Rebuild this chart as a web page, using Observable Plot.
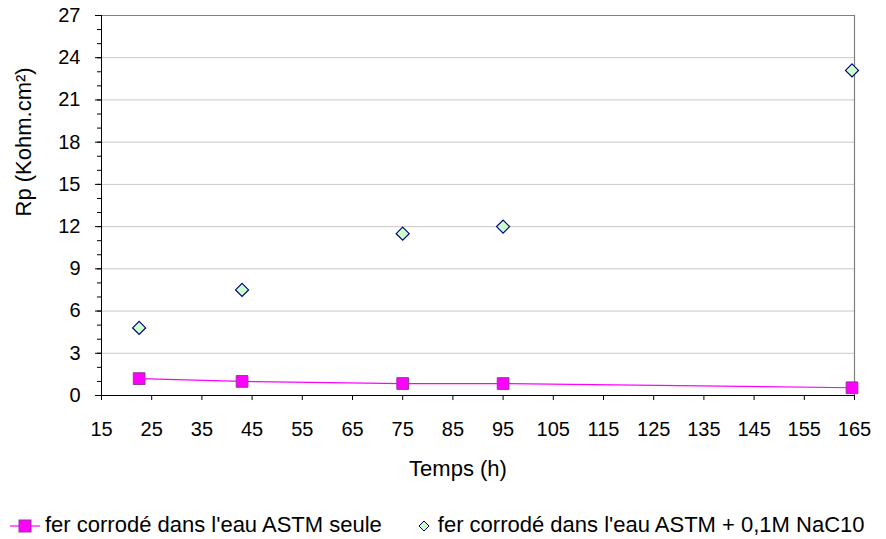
<!DOCTYPE html>
<html>
<head>
<meta charset="utf-8">
<script src="https://cdn.jsdelivr.net/npm/d3@7"></script>
<script src="https://cdn.jsdelivr.net/npm/@observablehq/plot@0.6"></script>
<style>
  body { margin: 0; background: #fff; font-family: "Liberation Sans", Arial, sans-serif; }
  #chart svg { display: block; }
  #legend { margin-top: 10px; height: 30px; line-height: 30px; display: flex; align-items: center; font-size: 22px; color: #000; white-space: nowrap; }
  #legend .item { display: flex; align-items: center; }
  #legend svg { display: block; }
</style>
</head>
<body>
<div id="chart"></div>
<div id="legend"></div>
<script>
const hours = [22.5, 43, 75, 95, 164.5];
const rpSeule = [1.2, 1.0, 0.85, 0.85, 0.55];
const rpNaC10 = [4.8, 7.5, 11.5, 12.0, 23.1];
const seriesNames = ["fer corrodé dans l'eau ASTM seule", "fer corrodé dans l'eau ASTM + 0,1M NaC10"];
const xTicks = [15, 25, 35, 45, 55, 65, 75, 85, 95, 105, 115, 125, 135, 145, 155, 165];
const yTicks = [0, 3, 6, 9, 12, 15, 18, 21, 24, 27];
const yMinor = d3.range(0, 28, 1);
const xLabel = "Temps (h)";
const yLabel = "Rp (Kohm.cm²)";

const seule = hours.map((h, i) => ({h, rp: rpSeule[i]}));
const nac = hours.map((h, i) => ({h, rp: rpNaC10[i]}));

const excelDiamond = {
  draw(ctx, size) {
    const r = Math.sqrt(size / 2);
    ctx.moveTo(0, -r); ctx.lineTo(r, 0); ctx.lineTo(0, r); ctx.lineTo(-r, 0); ctx.closePath();
  }
};

const chart = Plot.plot({
  width: 886,
  height: 500,
  marginLeft: 101,
  marginRight: 32,
  marginTop: 15,
  marginBottom: 105,
  style: {fontFamily: "Liberation Sans, Arial, sans-serif", fontSize: "20px", color: "#000", background: "#fff"},
  x: {domain: [15, 165]},
  y: {domain: [0, 27]},
  marks: [
    Plot.gridY(yTicks, {stroke: "#c8c8c8", strokeOpacity: 1}),
    Plot.ruleY([27], {stroke: "#808080"}),
    Plot.ruleX([165], {stroke: "#808080", strokeWidth: 1.2}),
    Plot.axisY(yMinor, {tickSize: 4, tickFormat: () => "", label: null, stroke: "#000"}),
    Plot.axisY(yTicks, {tickSize: 6, tickPadding: 15, fontSize: 20, label: null, stroke: "#000"}),
    Plot.axisX(xTicks, {tickSize: 5, tickPadding: 21, fontSize: 20, label: null, stroke: "#000"}),
    Plot.ruleX([15], {stroke: "#000"}),
    Plot.ruleY([0], {stroke: "#000"}),
    Plot.line(seule, {x: "h", y: "rp", stroke: "#ff00ff", strokeWidth: 1.2}),
    Plot.dot(seule, {x: "h", y: "rp", symbol: "square", r: 6.6, fill: "#ff00ff", stroke: "#993399", strokeWidth: 1}),
    Plot.dot(nac, {x: "h", y: "rp", symbol: excelDiamond, r: 5.2, fill: "#ccffcc", stroke: "#000080", strokeWidth: 1.2}),
    Plot.text([xLabel], {frameAnchor: "bottom", dx: -20, dy: 80, fontSize: 22, fill: "#000"}),
    Plot.text([yLabel], {frameAnchor: "left", dx: -78, dy: 11, rotate: -90, fontSize: 22, fill: "#000"})
  ]
});
document.getElementById("chart").appendChild(chart);

// legend
const legend = d3.select("#legend");
const item1 = legend.append("div").attr("class", "item").style("margin-left", "9px");
const s1 = item1.append("svg").attr("width", 32).attr("height", 24);
s1.append("line").attr("x1", 1).attr("x2", 31).attr("y1", 13).attr("y2", 13).attr("stroke", "#ff00ff").attr("stroke-width", 1.2);
s1.append("rect").attr("x", 10).attr("y", 7).attr("width", 12).attr("height", 12).attr("fill", "#ff00ff").attr("stroke", "#993399");
item1.append("span").style("margin-left", "4px").text(seriesNames[0]);
const item2 = legend.append("div").attr("class", "item").style("margin-left", "35px");
const s2 = item2.append("svg").attr("width", 14).attr("height", 24);
s2.append("path").attr("d", "M7,8 L12,13 L7,18 L2,13 Z").attr("fill", "#ccffcc").attr("stroke", "#000080");
item2.append("span").style("margin-left", "7px").text(seriesNames[1]);
</script>
</body>
</html>
